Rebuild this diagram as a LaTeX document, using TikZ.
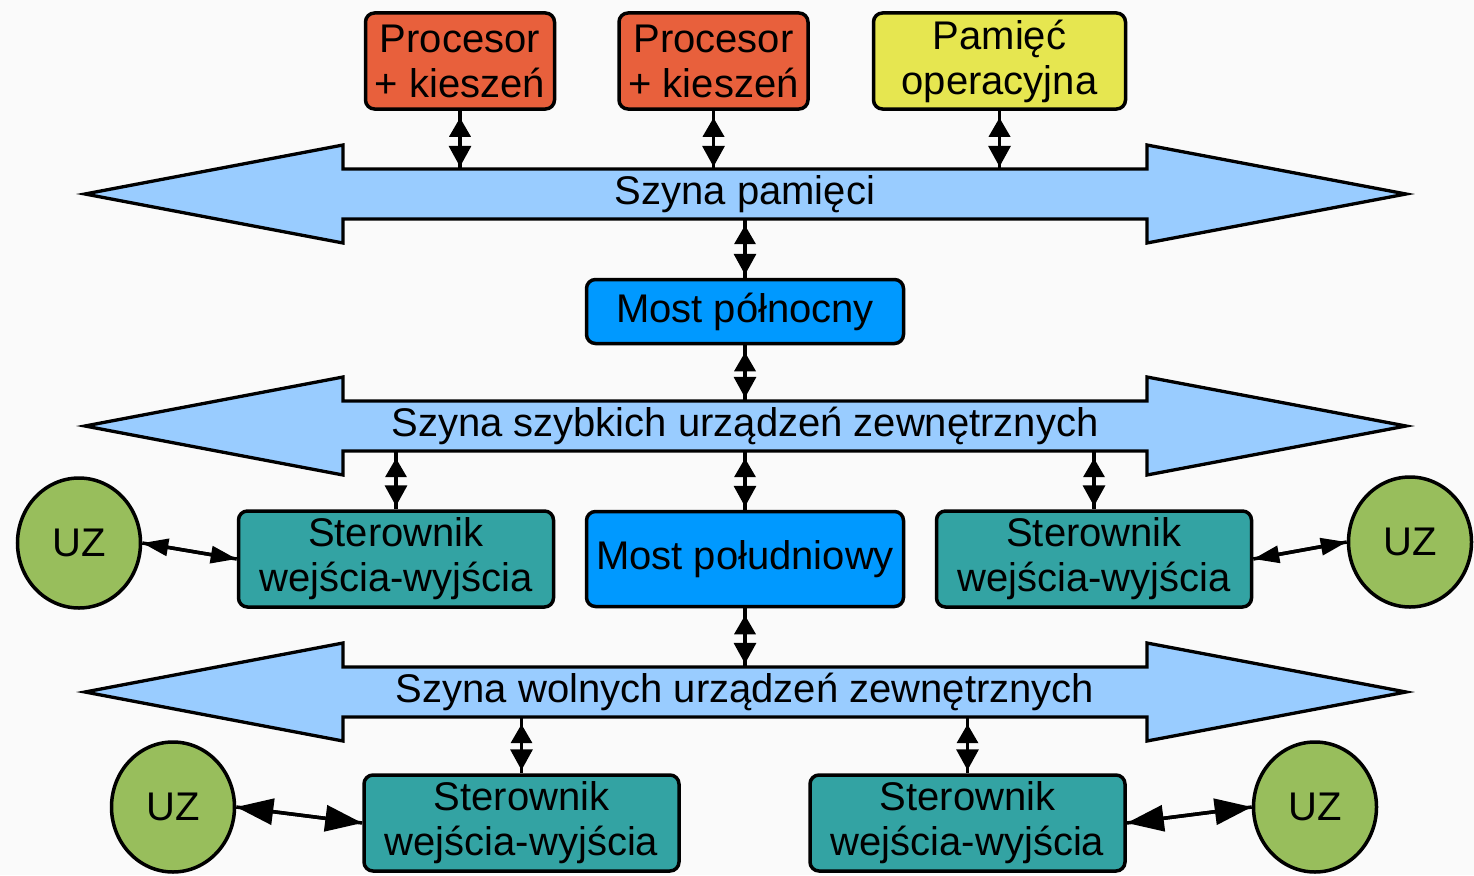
\documentclass[tikz,border=0pt]{standalone}
\usepackage{fontspec}
\setmainfont{Liberation Sans}
\usetikzlibrary{arrows.meta,shapes.geometric}

\definecolor{bgcol}{HTML}{FAFAFA}
\definecolor{procfill}{HTML}{E8603C}
\definecolor{memfill}{HTML}{E6E650}
\definecolor{busfill}{HTML}{99CCFF}
\definecolor{bridgefill}{HTML}{0099FF}
\definecolor{ctrlfill}{HTML}{33A3A3}
\definecolor{devfill}{HTML}{98BE5C}

% bus drawn as a wide double-headed arrow centred at height #1
\newcommand\busbar[1]{%
  \filldraw[busline] (343,#1-25) -- (343,#1-49) -- (85,#1) -- (343,#1+49)
    -- (343,#1+25) -- (1147,#1+25) -- (1147,#1+49) -- (1406,#1)
    -- (1147,#1-49) -- (1147,#1-25) -- cycle;}

% connector: plain wire plus a pair of arrow tips
\newcommand\linkab[3][tipsmall]{%
  \draw[wire] #2 -- #3;
  \draw[wire,#1] #2 -- #3;}

\begin{document}
\begin{tikzpicture}[x=1pt,y=-1pt,
  txt/.style={font=\fontsize{40}{45}\selectfont, text=black, align=center},
  box/.style={txt, draw=black, line width=3.5pt, rounded corners=9pt, inner sep=0pt},
  procbox/.style={box, fill=procfill, minimum width=189pt, minimum height=96pt},
  membox/.style={box, fill=memfill, minimum width=252pt, minimum height=96pt},
  bridgebox/.style={box, fill=bridgefill, minimum width=317pt},
  ctrlbox/.style={box, fill=ctrlfill, minimum width=315pt, minimum height=96pt},
  dev/.style={txt, ellipse, draw=black, line width=3.5pt, fill=devfill,
              minimum width=123pt, minimum height=130pt, inner sep=0pt},
  busline/.style={draw=black, fill=busfill, line width=3.3pt},
  busbody/.style={txt, minimum width=804pt, minimum height=50pt, inner sep=0pt},
  wire/.style={draw=black, line width=3.5pt},
  tipsmall/.style={{Triangle[length=19pt 0,width=21pt 0]}-{Triangle[length=21pt 0,width=22pt 0]},
                   shorten <=7pt, shorten >=3pt},
  tipmid/.style={{Triangle[length=26pt 0,width=17pt 0]}-{Triangle[length=26pt 0,width=17pt 0]}},
  tipbig/.style={{Triangle[length=37pt 0,width=26pt 0]}-{Triangle[length=37pt 0,width=26pt 0]}},
]
\useasboundingbox (0,0) rectangle (1474,875);
\fill[bgcol] (0,0) rectangle (1474,875);

% buses
\busbar{194}
\node[busbody, minimum height=48pt] (bus1) at (745,194) {Szyna pamięci};
\busbar{426}
\node[busbody] (bus2) at (745,426) {Szyna szybkich urządzeń zewnętrznych};
\busbar{692}
\node[busbody] (bus3) at (745,692) {Szyna wolnych urządzeń zewnętrznych};

% memory bus level
\node[procbox] (proc1) at (460,61) {Procesor\\+ kieszeń};
\node[procbox] (proc2) at (713.5,61) {Procesor\\+ kieszeń};
\node[membox] (pam) at (999.5,61) {Pamięć\\operacyjna};

% bridges
\node[bridgebox, minimum height=64pt] (mpn) at (745,311.5) {Most północny};
\node[bridgebox, minimum height=95pt] (mpd) at (745,559) {Most południowy};

% fast peripheral controllers and devices
\node[ctrlbox] (sterL) at (396,559) {Sterownik\\wejścia-wyjścia};
\node[ctrlbox] (sterR) at (1094,559) {Sterownik\\wejścia-wyjścia};
\node[dev] (uzL) at (79,543) {UZ};
\node[dev] (uzR) at (1410,542) {UZ};

% slow peripheral controllers and devices
\node[ctrlbox] (sterBL) at (521.5,823) {Sterownik\\wejścia-wyjścia};
\node[ctrlbox] (sterBR) at (967.5,823) {Sterownik\\wejścia-wyjścia};
\node[dev] (uzBL) at (173,807) {UZ};
\node[dev] (uzBR) at (1315,807) {UZ};

% vertical connectors
\linkab{(proc1.south)}{(proc1.south |- bus1.north)}
\linkab{(proc2.south)}{(proc2.south |- bus1.north)}
\linkab{(pam.south)}{(pam.south |- bus1.north)}
\linkab{(bus1.south -| mpn)}{(mpn.north)}
\linkab{(mpn.south)}{(mpn.south |- bus2.north)}
\linkab{(bus2.south -| sterL)}{(sterL.north)}
\linkab{(bus2.south -| mpd)}{(mpd.north)}
\linkab{(bus2.south -| sterR)}{(sterR.north)}
\linkab{(mpd.south)}{(mpd.south |- bus3.north)}
\linkab{(bus3.south -| sterBL)}{(sterBL.north)}
\linkab{(bus3.south -| sterBR)}{(sterBR.north)}

% device links
\linkab[tipmid]{(uzL.east)}{(sterL.west)}
\linkab[tipmid]{(sterR.east)}{(uzR.west)}
\linkab[tipbig]{(uzBL.east)}{(sterBL.west)}
\linkab[tipbig]{(sterBR.east)}{(uzBR.west)}
\end{tikzpicture}
\end{document}
